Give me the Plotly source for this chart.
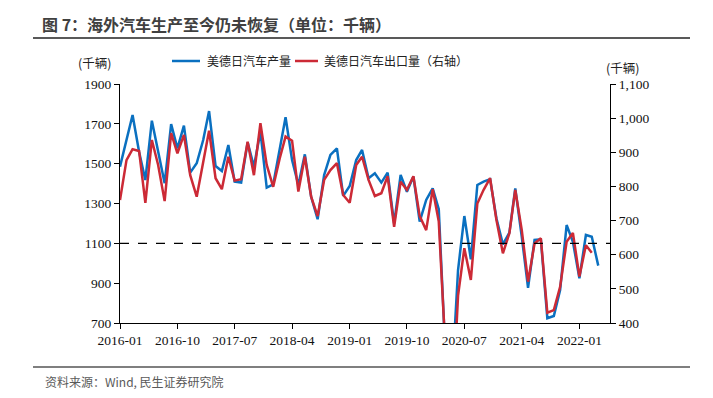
import pandas as pd
import plotly.graph_objects as go

months = pd.date_range("2016-01-01", periods=76, freq="MS").strftime("%Y-%m-%d").tolist()

production = [1485, 1615, 1744, 1560, 1418, 1716, 1560, 1402, 1699, 1577,
              1691, 1455, 1502, 1619, 1764, 1488, 1463, 1594, 1410, 1405,
              1607, 1485, 1661, 1380, 1396, 1569, 1733, 1518, 1393, 1547,
              1334, 1221, 1443, 1544, 1577, 1338, 1388, 1518, 1569, 1427,
              1452, 1405, 1455, 1200, 1443, 1359, 1435, 1209, 1318, 1376,
              1271, 560, 380, 966, 1237, 1020, 1393, 1410, 1422, 1226,
              1095, 1154, 1376, 1133, 877, 1117, 1120, 724, 735, 866,
              1192, 1108, 925, 1142, 1133, 988]

exports = [760, 877, 909, 904, 752, 936, 863, 757, 956, 897,
           951, 833, 770, 868, 963, 824, 792, 887, 817, 821,
           931, 833, 985, 863, 799, 882, 946, 934, 785, 887,
           770, 713, 819, 848, 868, 775, 752, 863, 887, 819,
           772, 780, 830, 682, 814, 790, 830, 713, 672, 792,
           697, 330, 100, 480, 619, 526, 750, 790, 824, 702,
           604, 663, 790, 672, 521, 633, 648, 430, 438, 506,
           638, 664, 536, 628, 606]

ref_level = 1100

name_prod = "美德日汽车产量"
name_exp = "美德日汽车出口量（右轴）"
title_text = "图 7：海外汽车生产至今仍未恢复（单位：千辆）"
source_text = "资料来源：Wind, 民生证券研究院"
unit_text = "(千辆)"

BLUE = "#0A70C0"
RED = "#CC2A36"
CJK = "Noto Sans CJK SC"
SERIF = "Liberation Serif"

# The page body has an 8px default margin; lay out in window pixels and shift.
OFF = 8
FIG_W, FIG_H = 713 - OFF, 398 - OFF
L, R, T, B = 120, 610, 84, 323
W, H = R - L, B - T


def px(x):
    return (x - L) / W


def py(y):
    return (B - y) / H


fig = go.Figure()
fig.add_trace(go.Scatter(x=months, y=production, name=name_prod, mode="lines",
                         line=dict(color=BLUE, width=2.5), yaxis="y"))
fig.add_trace(go.Scatter(x=months[:len(exports)], y=exports, name=name_exp, mode="lines",
                         line=dict(color=RED, width=2.5), yaxis="y2"))

fig.add_hline(y=ref_level, line=dict(color="black", width=1.2, dash="dash"), yref="y")

tickfont = dict(family=SERIF, size=13.5, color="#111111")
fig.update_layout(
    width=FIG_W, height=FIG_H,
    margin=dict(l=L - OFF, r=FIG_W - (R - OFF), t=T - OFF, b=FIG_H - (B - OFF), autoexpand=False),
    paper_bgcolor="white", plot_bgcolor="white",
    showlegend=False,
    xaxis=dict(type="date", range=["2016-01-01", "2022-05-27"],
               tick0="2016-01-01", dtick="M9", tickformat="%Y-%m",
               showgrid=False, zeroline=False,
               showline=True, linecolor="black", linewidth=1.2,
               ticks="outside", ticklen=5, tickcolor="black",
               tickfont=tickfont),
    yaxis=dict(range=[700, 1900], tick0=700, dtick=200, tickformat="d",
               showgrid=False, zeroline=False,
               showline=True, linecolor="black", linewidth=1.2,
               ticks="outside", ticklen=5, tickcolor="black",
               tickfont=tickfont),
    yaxis2=dict(range=[400, 1100], tick0=400, dtick=100, tickformat=",",
                overlaying="y", side="right",
                showgrid=False, zeroline=False,
                showline=True, linecolor="black", linewidth=1.2,
                ticks="outside", ticklen=5, tickcolor="black",
                tickfont=tickfont),
)

# Legend (drawn manually to match the reference placement)
legend_items = [(name_prod, BLUE, 172, 200, 205), (name_exp, RED, 295, 318, 322)]
for label, color, lx0, lx1, tx in legend_items:
    fig.add_shape(type="line", xref="paper", yref="paper",
                  x0=px(lx0), x1=px(lx1), y0=py(61), y1=py(61),
                  line=dict(color=color, width=2.5))
    fig.add_annotation(text=label, xref="paper", yref="paper",
                       x=px(tx), y=py(61), xanchor="left", yanchor="middle",
                       showarrow=False, font=dict(family=CJK, size=12, color="#222222"))

# Title and its rule
fig.add_annotation(text="<b>" + title_text + "</b>", xref="paper", yref="paper",
                   x=px(40), y=py(24), xanchor="left", yanchor="middle",
                   showarrow=False, font=dict(family=CJK, size=16, color="#404040"))
fig.add_shape(type="line", xref="paper", yref="paper",
              x0=px(33), x1=px(690), y0=py(38), y1=py(38),
              line=dict(color="#595959", width=2))
# Footer rule and source
fig.add_shape(type="line", xref="paper", yref="paper",
              x0=px(33), x1=px(690), y0=py(367), y1=py(367),
              line=dict(color="#7F7F7F", width=2))
fig.add_annotation(text=source_text, xref="paper", yref="paper",
                   x=px(43), y=py(381), xanchor="left", yanchor="middle",
                   showarrow=False, font=dict(family=CJK, size=12, color="#595959"))
# Axis unit labels
fig.add_annotation(text=unit_text, xref="paper", yref="paper",
                   x=px(94), y=py(62), xanchor="center", yanchor="middle",
                   showarrow=False, font=dict(family=CJK, size=12.5, color="#222222"))
fig.add_annotation(text=unit_text, xref="paper", yref="paper",
                   x=px(622), y=py(67), xanchor="center", yanchor="middle",
                   showarrow=False, font=dict(family=CJK, size=12.5, color="#222222"))

fig.write_html("out.html")
